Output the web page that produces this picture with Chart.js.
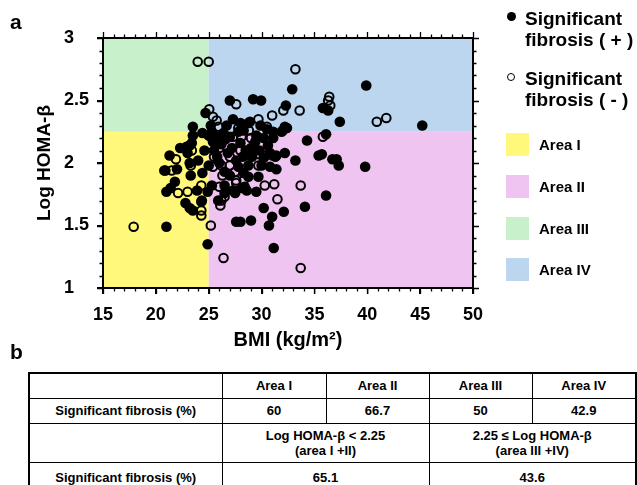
<!DOCTYPE html>
<html>
<head>
<meta charset="utf-8">
<script src="https://cdn.jsdelivr.net/npm/chart.js@4.4.1/dist/chart.umd.min.js"></script>
<style>
  html, body { margin:0; padding:0; background:#fff; }
  body { font-family: 'Liberation Sans', Arial, sans-serif; color:#000; }
  #wrap { position:relative; width:637px; height:485px; overflow:hidden; }
  #c { position:absolute; left:0; top:0; }
  .pl { position:absolute; font-weight:bold; font-size:21px; line-height:21px; }
  .lg { position:absolute; left:525px; font-weight:bold; font-size:19px; line-height:21px; white-space:nowrap; }
  .dot { position:absolute; border-radius:50%; box-sizing:border-box; }
  .sw { position:absolute; left:506px; width:23px; height:23px; }
  .sl { position:absolute; left:539px; height:23px; line-height:23px; font-weight:bold; font-size:15px; white-space:nowrap; }
  table { position:absolute; left:28px; top:372px; border-collapse:collapse; border:2px solid #000; table-layout:fixed; }
  td { border:1.5px solid #000; text-align:center; vertical-align:middle; font-weight:bold; font-size:13px; line-height:15px; padding:0; }
</style>
</head>
<body>
<div id="wrap">
  <canvas id="c" width="637" height="365"></canvas>
  <div class="pl" style="left:10px;top:11px;">a</div>
  <div class="pl" style="left:10px;top:341px;">b</div>
  <div id="legend"></div>
  <div id="tbl"></div>
</div>
<script>
// ---------------- data ----------------
const posBMI = [32.9,27.0,29.2,29.95,24.7,32.3,23.5,26.7,28.0,28.75,32.2,31.9,31.1,34.3,35.4,32.2,33.2,31.4,21.3,22.3,
  22.9,23.4,23.2,24.4,25.0,39.9,35.8,36.3,37.4,45.2,32.4,32.0,36.1,35.7,36.7,37.1,37.3,39.8,36.1,28.75,
  29.7,28.4,29.5,30.2,34.1,32.1,31.0,30.7,29.0,28.0,31.15,21.0,24.9,27.6,23.5,23.2,22.8,25.9,27.3,28.6,
  24.9,23.9,21.0,21.4,21.8,25.3,26.5,28.1,23.3,24.4,23.0,23.2,23.5,30.8,31.4,28.9,29.5,29.4,30.2,31.1,
  30.6,30.8,29.1,30.2,25.3,25.75,26.4,27.0,27.8,28.3,20.9,24.35,26.5,27.5,25.0,26.5,27.8,28.3,28.75,
  25.5,25.8,26.2,26.8,27.2,27.6,28.0,28.5,29.0,29.8,26.0,27.0,25.4,28.2,30.0,26.6,24.0,24.6,22.0,29.9,30.5,25.2,27.3];
const posLogHoma = [2.59,2.50,2.51,2.50,2.40,2.46,2.29,2.30,2.32,2.32,2.29,2.25,2.25,2.18,2.06,2.08,2.02,2.06,2.06,2.12,
  2.13,2.16,2.00,2.24,2.22,2.62,2.44,2.42,2.33,2.30,2.28,2.26,2.23,2.07,2.03,2.03,1.98,1.97,1.74,1.89,
  1.89,1.81,1.77,1.64,1.65,1.61,1.57,1.50,1.54,1.53,1.32,1.49,1.35,1.53,1.62,1.64,1.68,1.70,1.78,1.78,
  1.77,1.78,1.77,1.80,1.85,1.82,1.82,1.80,1.90,1.92,2.08,2.14,2.22,1.97,1.95,2.33,2.22,2.17,2.20,2.20,
  2.14,2.08,2.05,2.04,2.25,2.21,2.24,2.21,2.25,2.26,1.94,1.70,1.76,1.76,1.98,1.93,1.97,1.92,1.98,
  2.10,2.05,2.15,2.08,2.12,2.02,2.16,2.10,2.12,2.10,2.00,1.90,2.17,2.05,1.98,2.19,2.02,2.10,1.95,2.30,2.27,2.30,2.35];
const negBMI = [23.96,25.0,33.2,27.6,25.05,25.75,25.4,31.0,29.7,32.06,33.6,27.8,28.8,30.5,30.4,28.6,29.7,21.9,36.4,36.3,
  36.5,40.9,41.8,35.8,33.7,28.3,30.3,31.2,31.5,33.7,17.9,25.2,26.4,24.3,24.3,26.1,26.2,26.5,23.0,22.1,
  24.3,26.0,27.6,20.8,21.5,23.3,23.0,31.05,29.8,25.9,27.3,28.1,23.4,31.3,24.3,25.4,26.2,27.0,27.5,27.6,
  25.5,26.0,27.0,28.0,25.3,26.3,29.0];
const negLogHoma = [2.81,2.81,2.75,2.47,2.43,2.34,2.37,2.38,2.35,2.42,2.42,2.28,2.26,2.29,2.06,2.06,1.98,2.03,2.53,2.50,
  2.46,2.33,2.36,2.21,1.82,1.86,1.82,1.83,1.71,1.16,1.49,1.50,1.24,1.58,1.62,1.66,1.70,1.73,1.77,1.76,
  1.82,1.81,1.84,1.94,1.94,1.98,2.13,2.06,2.07,2.29,2.21,2.21,2.10,2.05,1.69,1.97,1.98,1.98,1.93,1.86,
  2.05,2.12,2.05,2.10,2.20,1.90,2.20];

const seriesNames = ['Significant fibrosis ( + )', 'Significant fibrosis ( - )'];
const bmiCut = 25;
const homaCut = 2.25;
const areaNames = ['Area I', 'Area II', 'Area III', 'Area IV'];
const areaColors = ['#FFF87A', '#F0C4F0', '#C8F0CA', '#BBD6EE'];

const tableHeader = ['', 'Area I', 'Area II', 'Area III', 'Area IV'];
const rowLabel = 'Significant fibrosis (%)';
const areaPct = ['60', '66.7', '50', '42.9'];
const groupLabels = ['Log HOMA-β < 2.25<br>(area I +II)', '2.25 ≤ Log HOMA-β<br>(area III +IV)'];
const groupPct = ['65.1', '43.6'];

// ---------------- chart ----------------
const FONT = "'Liberation Sans', Arial, sans-serif";
Chart.defaults.font.family = FONT;
Chart.defaults.color = '#000';

const toPts = (xs, ys) => xs.map((x, i) => ({x, y: ys[i]}));

const bgPlugin = {
  id: 'quadrants',
  beforeDraw(chart) {
    const {ctx, chartArea: a, scales: {x, y}} = chart;
    const xc = x.getPixelForValue(bmiCut), yc = y.getPixelForValue(homaCut);
    ctx.save();
    ctx.fillStyle = areaColors[0]; ctx.fillRect(a.left, yc, xc - a.left, a.bottom - yc);
    ctx.fillStyle = areaColors[1]; ctx.fillRect(xc, yc, a.right - xc, a.bottom - yc);
    ctx.fillStyle = areaColors[2]; ctx.fillRect(a.left, a.top, xc - a.left, yc - a.top);
    ctx.fillStyle = areaColors[3]; ctx.fillRect(xc, a.top, a.right - xc, yc - a.top);
    ctx.restore();
  },
  afterDraw(chart) {
    const {ctx, chartArea: a, scales: {x, y}} = chart;
    ctx.save();
    ctx.strokeStyle = '#000';
    ctx.lineWidth = 1.3;
    ctx.beginPath();
    for (let v = 15; v <= 50; v++) {
      const px = Math.round(x.getPixelForValue(v)) + 0.5;
      const L = (v % 5 === 0) ? 6 : 3.5;
      ctx.moveTo(px, a.bottom); ctx.lineTo(px, a.bottom + L);
      ctx.moveTo(px, a.top); ctx.lineTo(px, a.top - L);
    }
    for (let k = 10; k <= 30; k++) {
      const py = Math.round(y.getPixelForValue(k / 10)) + 0.5;
      const L = (k % 5 === 0) ? 6 : 3.5;
      ctx.moveTo(a.left, py); ctx.lineTo(a.left - L, py);
      ctx.moveTo(a.right, py); ctx.lineTo(a.right + L, py);
    }
    ctx.stroke();
    ctx.lineWidth = 2;
    ctx.strokeRect(a.left, a.top, a.right - a.left, a.bottom - a.top);
    ctx.restore();
  }
};

new Chart(document.getElementById('c'), {
  type: 'scatter',
  data: {
    datasets: [
      { label: seriesNames[0], data: toPts(posBMI, posLogHoma), pointRadius: 5.3,
        backgroundColor: '#000', borderColor: '#000', borderWidth: 0, pointHoverRadius: 5.3 },
      { label: seriesNames[1], data: toPts(negBMI, negLogHoma), pointRadius: 4.3,
        backgroundColor: 'rgba(0,0,0,0)', borderColor: '#000', borderWidth: 2, pointHoverRadius: 4.3 }
    ]
  },
  options: {
    responsive: false, animation: false, devicePixelRatio: 1,
    layout: { padding: { left: 64, top: 38, right: 164, bottom: 0 } },
    plugins: { legend: { display: false }, tooltip: { enabled: false } },
    scales: {
      x: {
        type: 'linear', min: 15, max: 50,
        ticks: { stepSize: 5, padding: 10, color: '#000', font: { size: 18, weight: 'bold' } },
        grid: { drawOnChartArea: false, drawTicks: true, tickLength: 6, color: '#000', lineWidth: 1.3 },
        border: { color: '#000', width: 2 },
        title: { display: true, text: 'BMI (kg/m²)', color: '#000', font: { size: 20, weight: 'bold' }, padding: { top: 0, bottom: 13 } },
        afterFit(s) { s.height = 77; }
      },
      y: {
        type: 'linear', min: 1, max: 3,
        ticks: { stepSize: 0.5, padding: 8, crossAlign: 'far', color: '#000', font: { size: 18, weight: 'bold' },
                 callback: v => String(Math.round(v * 10) / 10) },
        grid: { drawOnChartArea: false, drawTicks: true, tickLength: 6, color: '#000', lineWidth: 1.3 },
        border: { color: '#000', width: 2 },
        title: { display: true, text: 'Log HOMA-β', color: '#000', font: { size: 19, weight: 'bold' }, padding: { top: -30.4, bottom: 0 } },
        afterFit(s) { s.width = 39; }
      }
    }
  },
  plugins: [bgPlugin]
});

// ---------------- legend ----------------
const lg = document.getElementById('legend');
const splitName = n => { const i = n.indexOf(' '); return n.slice(0, i) + '<br>' + n.slice(i + 1); };
lg.innerHTML =
  `<div class="dot" style="left:507px;top:12px;width:9px;height:9px;background:#000;"></div>` +
  `<div class="lg" style="top:8px;">${splitName(seriesNames[0])}</div>` +
  `<div class="dot" style="left:507px;top:73px;width:8px;height:8px;border:1.6px solid #000;"></div>` +
  `<div class="lg" style="top:68px;">${splitName(seriesNames[1])}</div>` +
  areaNames.map((n, i) => {
    const top = [133, 175, 217, 258][i];
    return `<div class="sw" style="top:${top}px;background:${areaColors[i]};"></div>` +
           `<div class="sl" style="top:${top}px;">${n}</div>`;
  }).join('');

// ---------------- table ----------------
const colW = [193, 104, 103, 103, 104];
const rowH = [25, 25, 39, 31];
let h = '<table><colgroup>' + colW.map(w => `<col style="width:${w}px">`).join('') + '</colgroup>';
h += `<tr style="height:${rowH[0]}px">` + tableHeader.map(t => `<td>${t}</td>`).join('') + '</tr>';
h += `<tr style="height:${rowH[1]}px"><td>${rowLabel}</td>` + areaPct.map(t => `<td>${t}</td>`).join('') + '</tr>';
h += `<tr style="height:${rowH[2]}px"><td></td><td colspan="2">${groupLabels[0]}</td><td colspan="2">${groupLabels[1]}</td></tr>`;
h += `<tr style="height:${rowH[3]}px"><td>${rowLabel}</td><td colspan="2">${groupPct[0]}</td><td colspan="2">${groupPct[1]}</td></tr>`;
h += '</table>';
document.getElementById('tbl').innerHTML = h;
</script>
</body>
</html>
